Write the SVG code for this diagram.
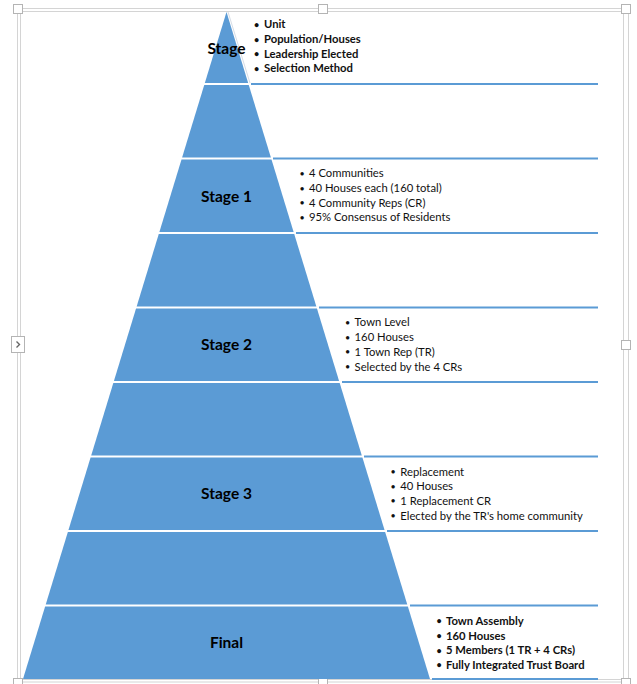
<svg xmlns="http://www.w3.org/2000/svg" width="637" height="684" viewBox="0 0 637 684">
<style>
.band{fill:#5B9BD5}
.lbl{font-family:Lato,"Liberation Sans",sans-serif;font-weight:bold;font-size:15.5px;fill:#000;text-anchor:middle}
.txt{font-family:Lato,"Liberation Sans",sans-serif;font-size:11.25px;fill:#111}
.b{font-weight:bold}
.dot{font-size:9px}
.sep{stroke:#5B9BD5;stroke-width:2;fill:none}
.frame{fill:none;stroke:#d4d4d4;stroke-width:1}
.hdl{fill:#fff;stroke:#b4b4b4;stroke-width:1}
</style>
<rect width="637" height="684" fill="#fff"/>
<!-- selection frame -->
<g id="frame">
<rect class="frame" x="17.5" y="8.5" width="611" height="673.5"/>
<rect class="frame" x="20.5" y="11.5" width="603" height="668"/>
<rect class="hdl" x="13.5" y="4.5" width="9" height="9"/>
<rect class="hdl" x="318.5" y="4.5" width="9" height="9"/>
<rect class="hdl" x="621.5" y="4.5" width="9" height="9"/>
<rect class="hdl" x="621.5" y="340.5" width="9" height="9"/>
<rect class="hdl" x="13.5" y="678.5" width="9" height="9"/>
<rect class="hdl" x="318.5" y="678.5" width="9" height="9"/>
<rect class="hdl" x="621.5" y="678.5" width="9" height="9"/>
<rect class="hdl" x="11.5" y="336.5" width="13" height="16"/>
<path d="M16.5 341.5 L19.5 344.5 L16.5 347.5" fill="none" stroke="#666" stroke-width="1.4"/>
</g>
<!-- connectors: separator lines of text areas -->
<g id="connectors">
<line x1="228" y1="12" x2="250" y2="83" stroke="#d6dde6" stroke-width="1"/>
<line class="sep" x1="251" y1="84" x2="598" y2="84"/>
<line class="sep" x1="273" y1="158.5" x2="598" y2="158.5"/>
<line class="sep" x1="296" y1="233" x2="598" y2="233"/>
<line class="sep" x1="319" y1="307.5" x2="598" y2="307.5"/>
<line class="sep" x1="342" y1="382" x2="598" y2="382"/>
<line class="sep" x1="364" y1="456.5" x2="598" y2="456.5"/>
<line class="sep" x1="387" y1="531" x2="598" y2="531"/>
<line class="sep" x1="410" y1="605.5" x2="598" y2="605.5"/>
<line class="sep" x1="432" y1="679" x2="598" y2="679"/>
</g>
<g id="stage0">
<polygon class="band" points="226.5,12 248.16,83 204.84,83"/>
<text class="lbl" x="226.5" y="53.5">Stage</text>
<text class="txt b"><tspan class="dot" x="254" y="27.8">•</tspan><tspan x="264" y="28.3">Unit</tspan></text>
<text class="txt b"><tspan class="dot" x="254" y="42.5">•</tspan><tspan x="264" y="43">Population/Houses</tspan></text>
<text class="txt b"><tspan class="dot" x="254" y="57.1">•</tspan><tspan x="264" y="57.6">Leadership Elected</tspan></text>
<text class="txt b"><tspan class="dot" x="254" y="71.8">•</tspan><tspan x="264" y="72.3">Selection Method</tspan></text>
</g>
<g id="band2">
<polygon class="band" points="204.23,85 248.77,85 270.89,157.5 182.11,157.5"/>
</g>
<g id="stage1">
<polygon class="band" points="181.5,159.5 271.5,159.5 293.62,232 159.38,232"/>
<text class="lbl" x="226.5" y="201.5">Stage 1</text>
<text class="txt"><tspan class="dot" x="299.5" y="176.8">•</tspan><tspan x="309" y="177.3">4 Communities</tspan></text>
<text class="txt"><tspan class="dot" x="299.5" y="191.5">•</tspan><tspan x="309" y="192">40 Houses each (160 total)</tspan></text>
<text class="txt"><tspan class="dot" x="299.5" y="206.2">•</tspan><tspan x="309" y="206.7">4 Community Reps (CR)</tspan></text>
<text class="txt"><tspan class="dot" x="299.5" y="220.9">•</tspan><tspan x="309" y="221.4">95% Consensus of Residents</tspan></text>
</g>
<g id="band4">
<polygon class="band" points="158.77,234 294.23,234 316.35,306.5 136.65,306.5"/>
</g>
<g id="stage2">
<polygon class="band" points="136.04,308.5 316.96,308.5 339.08,381 113.92,381"/>
<text class="lbl" x="226.5" y="350.3">Stage 2</text>
<text class="txt"><tspan class="dot" x="345" y="325.9">•</tspan><tspan x="354.6" y="326.4">Town Level</tspan></text>
<text class="txt"><tspan class="dot" x="345" y="340.6">•</tspan><tspan x="354.6" y="341.1">160 Houses</tspan></text>
<text class="txt"><tspan class="dot" x="345" y="355.3">•</tspan><tspan x="354.6" y="355.8">1 Town Rep (TR)</tspan></text>
<text class="txt"><tspan class="dot" x="345" y="370">•</tspan><tspan x="354.6" y="370.5">Selected by the 4 CRs</tspan></text>
</g>
<g id="band6">
<polygon class="band" points="113.31,383 339.69,383 361.81,455.5 91.19,455.5"/>
</g>
<g id="stage3">
<polygon class="band" points="90.58,457.5 362.42,457.5 384.54,530 68.46,530"/>
<text class="lbl" x="226.5" y="499.2">Stage 3</text>
<text class="txt"><tspan class="dot" x="390.5" y="475">•</tspan><tspan x="400.3" y="475.5">Replacement</tspan></text>
<text class="txt"><tspan class="dot" x="390.5" y="489.7">•</tspan><tspan x="400.3" y="490.2">40 Houses</tspan></text>
<text class="txt"><tspan class="dot" x="390.5" y="504.4">•</tspan><tspan x="400.3" y="504.9">1 Replacement CR</tspan></text>
<text class="txt"><tspan class="dot" x="390.5" y="519.1">•</tspan><tspan x="400.3" y="519.6">Elected by the TR's home community</tspan></text>
</g>
<g id="band8">
<polygon class="band" points="67.85,532 385.15,532 407.27,604.5 45.73,604.5"/>
</g>
<g id="final">
<polygon class="band" points="45.12,606.5 407.88,606.5 430,679 23,679"/>
<text class="lbl" x="226.5" y="648">Final</text>
<text class="txt b"><tspan class="dot" x="436.5" y="624.3">•</tspan><tspan x="446" y="624.8">Town Assembly</tspan></text>
<text class="txt b"><tspan class="dot" x="436.5" y="639">•</tspan><tspan x="446" y="639.5">160 Houses</tspan></text>
<text class="txt b"><tspan class="dot" x="436.5" y="653.7">•</tspan><tspan x="446" y="654.2">5 Members (1 TR + 4 CRs)</tspan></text>
<text class="txt b"><tspan class="dot" x="436.5" y="668.4">•</tspan><tspan x="446" y="668.9">Fully Integrated Trust Board</tspan></text>
</g>
</svg>
